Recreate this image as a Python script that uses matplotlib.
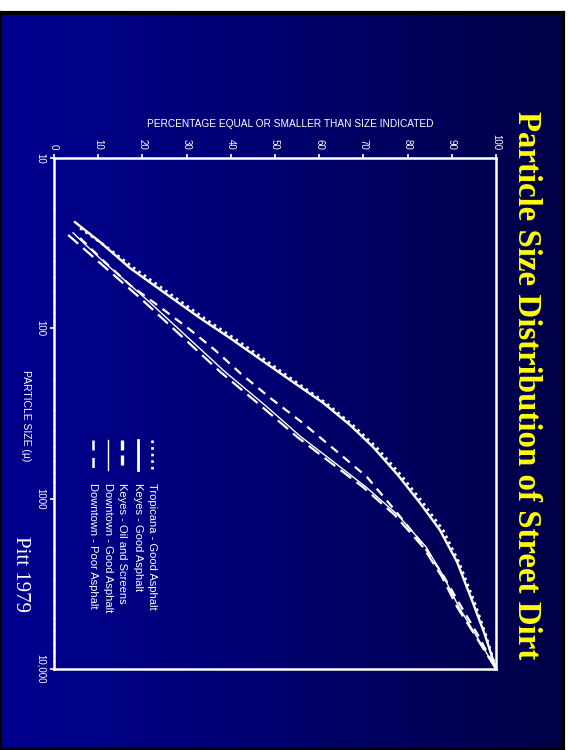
import matplotlib
matplotlib.use('Agg')
import matplotlib.pyplot as plt
import numpy as np

# particle size (microns) vs. percent finer
trop_size = [25.8, 32.4, 44.3, 62.1, 86.9, 114, 149, 201, 274, 370, 498, 727,
             1060, 1528, 2355, 4100, 6310, 10000]
trop_pct = [5.9, 11.3, 18.1, 26.0, 33.9, 40.7, 47.1, 54.1, 61.5, 67.6, 72.9, 78.5,
            83.5, 88.0, 91.6, 95.2, 97.7, 100]

keyes_good_size = [23.8, 31.1, 44.3, 62.1, 86.9, 114, 149, 201, 274, 370, 498, 727,
                   1060, 1528, 2355, 4100, 6310, 10000]
keyes_good_pct = [4.75, 10.4, 17.2, 25.1, 33.0, 39.8, 46.2, 53.4, 60.9, 67.0, 72.2, 77.8,
                  82.8, 87.3, 91.2, 94.8, 97.5, 100]

keyes_oil_size = [29.5, 40.8, 55.7, 75.0, 102, 134, 183, 256, 360, 518, 746, 1166,
                  1872, 2806, 4208, 6310, 10000]
keyes_oil_pct = [5.9, 11.5, 17.2, 24.0, 30.8, 36.4, 42.1, 48.9, 56.3, 63.6, 70.8, 77.1,
                 83.5, 88.0, 91.9, 95.9, 100]

down_good_size = [27.5, 41.3, 66.4, 109, 180, 282, 434, 609, 855, 1248, 1923, 2884,
                  4325, 6486, 10000]
down_good_pct = [4.3, 11.5, 20.6, 29.6, 38.7, 47.7, 55.9, 63.3, 70.6, 77.8, 84.2, 88.2,
                 91.6, 95.7, 100]

down_poor_size = [28.3, 41.3, 66.4, 109, 180, 282, 434, 609, 855, 1248, 1923, 2884,
                  4325, 6486, 10000]
down_poor_pct = [3.2, 10.4, 19.5, 28.5, 37.6, 46.6, 55.0, 62.4, 69.9, 77.1, 83.5, 87.8,
                 91.2, 95.5, 100]

pct_ticks = [0, 10, 20, 30, 40, 50, 60, 70, 80, 90, 100]
size_ticks = [10, 100, 1000, 10000]
size_labels = ['10', '100', '1000', '10,000']

legend_names = ['Tropicana - Good Asphalt', 'Keyes - Good Asphalt',
                'Keyes - Oil and Screens', 'Downtown - Good Asphalt',
                'Downtown - Poor Asphalt']

W, H = 568, 750
fig = plt.figure(figsize=(W / 100, H / 100), dpi=100, facecolor='white')

# slide background: horizontal blue gradient with a black edge
bg = fig.add_axes([0, 0, 563 / W, 737 / H])
grad = np.linspace(0, 1, 256).reshape(1, -1)
colors = np.zeros((1, 256, 3))
colors[..., 2] = (142 - 72 * grad ** 1.2) / 255
bg.imshow(colors, aspect='auto', extent=[0, 1, 0, 1])
bg.set_xlim(0, 1)
bg.set_ylim(0, 1)
bg.set_xticks([])
bg.set_yticks([])
for s in bg.spines.values():
    s.set_color('black')
    s.set_linewidth(3)

fig.text(527 / W, 1 - 385 / H, 'Particle Size Distribution of Street Dirt',
         family='Liberation Serif', weight='bold', fontsize=23.7, color='#FFFF00',
         rotation=-90, ha='center', va='center')
fig.text(20 / W, 1 - 574 / H, 'Pitt 1979', family='Liberation Serif',
         fontsize=15, color='white', rotation=-90, ha='center', va='center')

ax = fig.add_axes([54 / W, 1 - 669 / H, 442 / W, 511 / H])
ax.set_facecolor('none')
ax.set_yscale('log')
ax.set_xlim(0, 100)
ax.set_ylim(10000, 10)

white = 'white'
ax.plot(trop_pct, trop_size, color=white, lw=1.9, ls=(0, (1, 1.5)))
ax.plot(keyes_good_pct, keyes_good_size, color=white, lw=1.7)
ax.plot(keyes_oil_pct, keyes_oil_size, color=white, lw=1.6, ls=(0, (4, 3)))
ax.plot(down_good_pct, down_good_size, color=white, lw=1.0)
ax.plot(down_poor_pct, down_poor_size, color=white, lw=1.6, ls=(0, (6, 3)))

for s in ax.spines.values():
    s.set_color(white)
    s.set_linewidth(1.8)

ax.xaxis.tick_top()
ax.set_xticks(pct_ticks)
ax.set_xticklabels([str(t) for t in pct_ticks], rotation=-90,
                   family='Liberation Sans', fontsize=7, color=white)
ax.set_yticks(size_ticks)
ax.set_yticklabels(size_labels, rotation=-90, va='center',
                   family='Liberation Sans', fontsize=7, color=white)
ax.tick_params(axis='x', colors=white, length=3, width=1.2, pad=3)
ax.tick_params(axis='y', which='major', colors=white, length=3, width=1.2, pad=3)
ax.tick_params(axis='y', which='minor', colors=white, length=2, width=1, direction='inout')

fig.text(290 / W, 1 - 124 / H, 'PERCENTAGE EQUAL OR SMALLER THAN SIZE INDICATED',
         family='Liberation Sans', fontsize=7.3, color=white, ha='center', va='center')
fig.text(26 / W, 1 - 416 / H, 'PARTICLE SIZE (\u03bc)', family='Liberation Sans',
         fontsize=7.5, color=white, rotation=-90, ha='center', va='center')

# legend drawn rotated, one column per entry
leg_x = [0.222, 0.190, 0.154, 0.122, 0.088]
leg_styles = [dict(lw=1.9, ls=(0, (1, 1.5))), dict(lw=2.0), dict(lw=2.4, ls=(0, (3, 1.5))),
              dict(lw=1.0), dict(lw=1.8, ls=(0, (4, 3)))]
for x, name, st in zip(leg_x, legend_names, leg_styles):
    ax.plot([x, x], [0.448, 0.389], color=white, transform=ax.transAxes, **st)
    ax.text(x, 0.364, name, transform=ax.transAxes, rotation=-90, ha='center', va='top',
            family='Liberation Sans', fontsize=8, color=white)

fig.savefig('out.png', dpi=100, facecolor='white')
